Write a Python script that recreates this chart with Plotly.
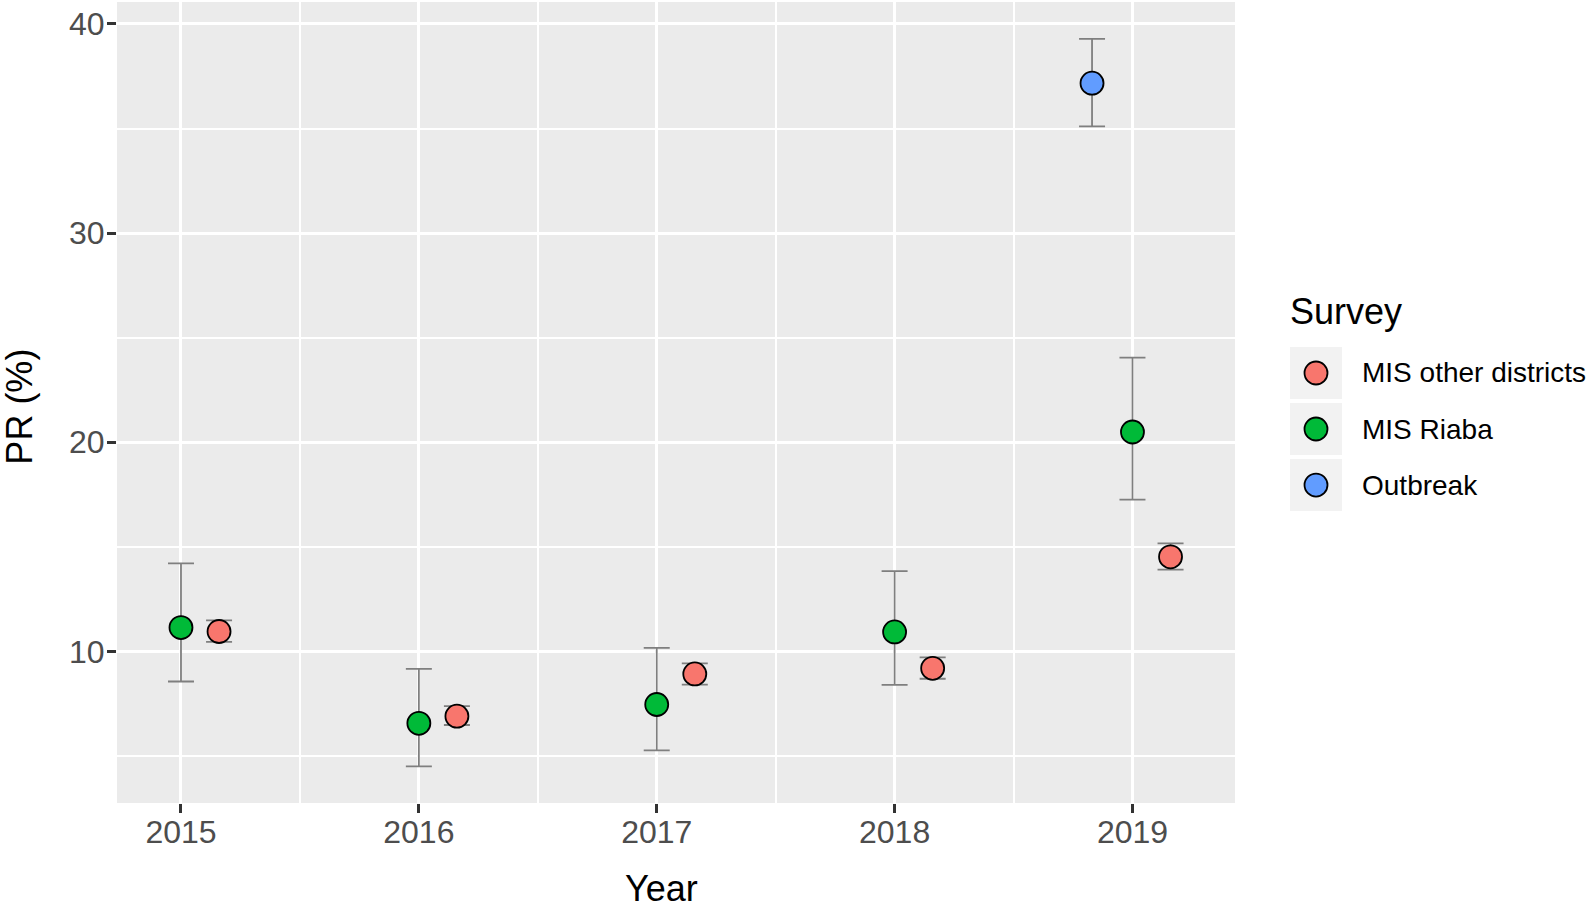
import plotly.graph_objects as go

# values (PR % with 95% CI)
years = [2015, 2016, 2017, 2018, 2019]
surveys = ["MIS other districts", "MIS Riaba", "Outbreak"]

other_years = [2015, 2016, 2017, 2018, 2019]
other_pr = [10.95, 6.90, 8.92, 9.19, 14.52]
other_lo = [10.45, 6.48, 8.41, 8.69, 13.91]
other_hi = [11.48, 7.38, 9.43, 9.71, 15.16]

riaba_years = [2015, 2016, 2017, 2018, 2019]
riaba_pr = [11.14, 6.56, 7.46, 10.93, 20.49]
riaba_lo = [8.56, 4.50, 5.27, 8.40, 17.26]
riaba_hi = [14.21, 9.16, 10.17, 13.84, 24.05]

outbreak_years = [2019]
outbreak_pr = [37.17]
outbreak_lo = [35.10]
outbreak_hi = [39.29]

# ggplot default hue palette + dodge offsets
COLORS = {"MIS other districts": "#F8766D", "MIS Riaba": "#00BA38", "Outbreak": "#619CFF"}
DODGE = {"MIS other districts": 0.16, "MIS Riaba": 0.0, "Outbreak": -0.17}
FONT = "Liberation Sans, Arial, sans-serif"

series = {
    "MIS other districts": (other_years, other_pr, other_lo, other_hi),
    "MIS Riaba": (riaba_years, riaba_pr, riaba_lo, riaba_hi),
    "Outbreak": (outbreak_years, outbreak_pr, outbreak_lo, outbreak_hi),
}

fig = go.Figure()

# panel background (plot_bgcolor would also paint the legend axes)
fig.add_shape(type="rect", xref="x domain", yref="y domain", x0=0, x1=1, y0=0, y1=1,
              fillcolor="#EBEBEB", line=dict(width=0), layer="below")

for name in ["MIS Riaba", "MIS other districts", "Outbreak"]:
    yr, pr, lo, hi = series[name]
    fig.add_trace(go.Scatter(
        x=[y + DODGE[name] for y in yr], y=pr,
        mode="markers", name=name, showlegend=False,
        marker=dict(size=23, color=COLORS[name], line=dict(width=1.8, color="black")),
        error_y=dict(type="data", symmetric=False,
                     array=[h - p for h, p in zip(hi, pr)],
                     arrayminus=[p - l for p, l in zip(pr, lo)],
                     color="#7F7F7F", thickness=1.8, width=13),
    ))

# ---- hand-made ggplot style legend on its own axes ----
for i, name in enumerate(surveys):
    fig.add_shape(type="rect", xref="x2", yref="y2", x0=0, x1=52, y0=i - 0.464, y1=i + 0.464,
                  fillcolor="#F2F2F2", line=dict(width=0), layer="below")
    fig.add_annotation(x=70, y=i, xref="x2", yref="y2", text=name, showarrow=False,
                       xanchor="left", yanchor="middle",
                       font=dict(family=FONT, size=28, color="black"))
fig.add_trace(go.Scatter(
    x=[26] * len(surveys), y=list(range(len(surveys))), xaxis="x2", yaxis="y2",
    mode="markers", showlegend=False, hoverinfo="skip",
    marker=dict(size=23, color=[COLORS[s] for s in surveys], line=dict(width=1.8, color="black")),
))
fig.add_annotation(x=0.7925, y=0.614, xref="paper", yref="paper", text="Survey", showarrow=False,
                   xanchor="left", yanchor="middle", font=dict(family=FONT, size=36, color="black"))

# axis titles
fig.add_annotation(x=0.3688, y=-0.1069, xref="paper", yref="paper", text="Year", showarrow=False,
                   xanchor="center", yanchor="middle", font=dict(family=FONT, size=36, color="black"))
fig.add_annotation(x=-0.0657, y=0.4948, xref="paper", yref="paper", text="PR (%)", showarrow=False,
                   textangle=-90, xanchor="center", yanchor="middle",
                   font=dict(family=FONT, size=36, color="black"))

tick = dict(ticks="outside", ticklen=9, tickwidth=2.7, tickcolor="#333333",
            tickfont=dict(family=FONT, size=32, color="#4D4D4D"),
            showline=False, zeroline=False, gridcolor="white", gridwidth=2.7)

fig.update_layout(
    width=1594, height=912, autosize=False,
    paper_bgcolor="white", plot_bgcolor="white",
    margin=dict(l=117, r=0, t=2, b=109),
    showlegend=False,
    xaxis=dict(domain=[0, 0.75694], range=[2014.731, 2019.431],
               tickvals=years, ticktext=[str(y) for y in years], ticklabelstandoff=-8,
               minor=dict(dtick=0.5, tick0=2014.5, showgrid=True, gridcolor="white", gridwidth=1.5, ticks=""),
               **tick),
    yaxis=dict(domain=[0, 1], range=[2.75, 41.05], tick0=0, dtick=10, ticklabelstandoff=-4,
               minor=dict(dtick=5, tick0=0, showgrid=True, gridcolor="white", gridwidth=1.5, ticks=""),
               **tick),
    xaxis2=dict(domain=[0.79418, 1], range=[0, 304], visible=False, anchor="y2"),
    yaxis2=dict(domain=[0.3620, 0.5718], range=[2.5, -0.5], visible=False, anchor="x2"),
)

# page body has a default 8px margin; drop it so the figure sits at 0,0
fig.write_html("out.html", config={"displayModeBar": False},
               post_script="document.body.style.margin='0';")
